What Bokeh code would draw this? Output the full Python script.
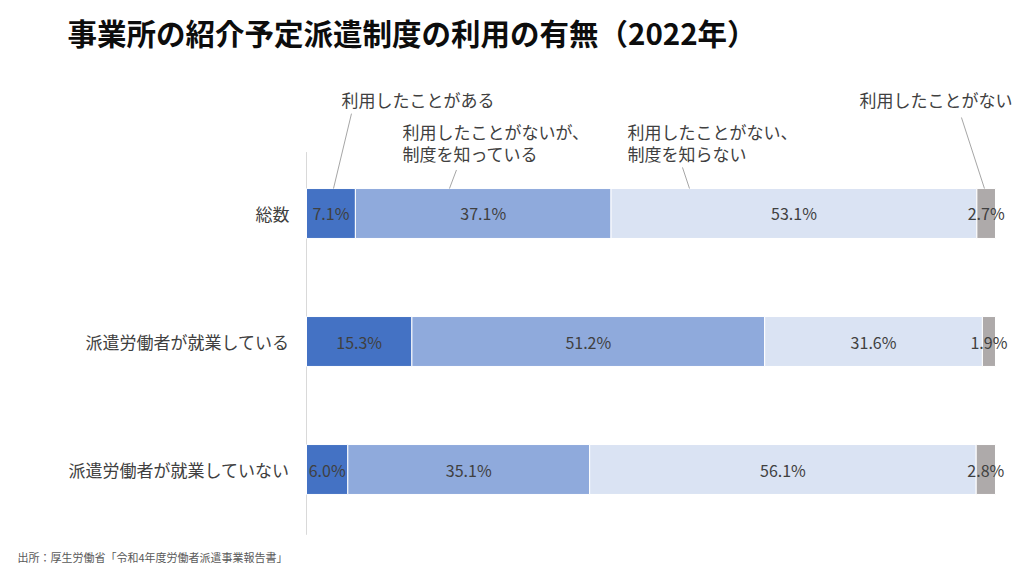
from bokeh.plotting import figure
from bokeh.models import Range1d, Label, ColumnDataSource
from bokeh.core.properties import value
from bokeh.embed import file_html
from bokeh.resources import INLINE

# ---- data ----
categories = ["総数", "派遣労働者が就業している", "派遣労働者が就業していない"]
series_names = ["利用したことがある", "利用したことがないが、制度を知っている",
                "利用したことがない、制度を知らない", "利用したことがない"]
used = [7.1, 15.3, 6.0]
not_used_known = [37.1, 51.2, 35.1]
not_used_unknown = [53.1, 31.6, 56.1]
no_answer = [2.7, 1.9, 2.8]
series_values = [used, not_used_known, not_used_unknown, no_answer]
colors = ["#4472C4", "#8FAADC", "#DAE3F3", "#AEAAAA"]
title_text = "事業所の紹介予定派遣制度の利用の有無（2022年）"
source_text = "出所：厚生労働省「令和4年度労働者派遣事業報告書」"

FONT = "Noto Sans CJK JP"

W, H = 1020, 570
p = figure(width=W, height=H, output_backend="svg", toolbar_location=None,
           x_range=Range1d(-44.41, 103.63), y_range=Range1d(-0.289, 4.164),
           min_border_left=0, min_border_right=0, min_border_top=0,
           min_border_bottom=0, x_axis_location=None, y_axis_location=None)
p.outline_line_color = None
p.grid.visible = False
p.background_fill_color = "white"
p.border_fill_color = "white"

# category positions (top to bottom)
n = len(categories)
ypos = [n - 0.5 - i for i in range(n)]

# category labels, drawn through the plot's scales
p.text(x=[-2.47] * n, y=ypos, text=categories, text_align="right",
       text_baseline="middle", text_font=value(FONT), text_font_size="17px",
       text_color="#404040")

# vertical axis line at 0
p.segment(x0=[0], y0=[-0.01], x1=[0], y1=[2.98], line_color="#D9D9D9", line_width=1)

# stacked bars
bar_h = 0.39
left = [0.0] * n
for vals, col in zip(series_values, colors):
    right = [l + v for l, v in zip(left, vals)]
    src = ColumnDataSource(dict(y=ypos, left=left, right=right,
                                mid=[(l + r) / 2 for l, r in zip(left, right)],
                                lab=[f"{v:.1f}%" for v in vals]))
    p.hbar(y="y", left="left", right="right", height=bar_h, source=src,
           fill_color=col, line_color="white", line_width=1)
    p.text(x="mid", y="y", text="lab", source=src, text_align="center",
           text_baseline="middle", text_font=value(FONT),
           text_font_size="16px", text_color="#404040")
    left = right

# callout labels and leader lines (anchored to the first category bar)
callout_lines = [["利用したことがある"],
                 ["利用したことがないが、", "制度を知っている"],
                 ["利用したことがない、", "制度を知らない"],
                 ["利用したことがない"]]
callout_x = [5.08, 13.93, 46.59, 80.26]
callout_y = [3.39, 3.14, 3.14, 3.39]
leader = [(6.53, 3.28, 3.92), (21.77, 2.84, 20.75), (54.57, 2.86, 55.59), (95.06, 3.25, 98.40)]
line_gap = 0.172
for lines, cx, cy, (lx0, ly0, lx1) in zip(callout_lines, callout_x, callout_y, leader):
    for j, t in enumerate(lines):
        p.text(x=[cx], y=[cy - j * line_gap], text=[t], text_align="left",
               text_baseline="middle", text_font=value(FONT),
               text_font_size="17px", text_color="#404040")
    p.segment(x0=[lx0], y0=[ly0], x1=[lx1], y1=[ypos[0] + bar_h / 2],
              line_color="#A6A6A6", line_width=1)

# title and source note
p.add_layout(Label(x=67, y=H - 31, x_units="screen", y_units="screen",
                   text=title_text, text_font=FONT, text_font_size="29.5px",
                   text_font_style="bold", text_color="#0D0D0D",
                   text_baseline="middle", text_align="left"))
p.add_layout(Label(x=17, y=14, x_units="screen", y_units="screen",
                   text=source_text, text_font=FONT, text_font_size="11px",
                   text_color="#595959", text_baseline="middle", text_align="left"))

open("out.html", "w").write(file_html(p, INLINE))
